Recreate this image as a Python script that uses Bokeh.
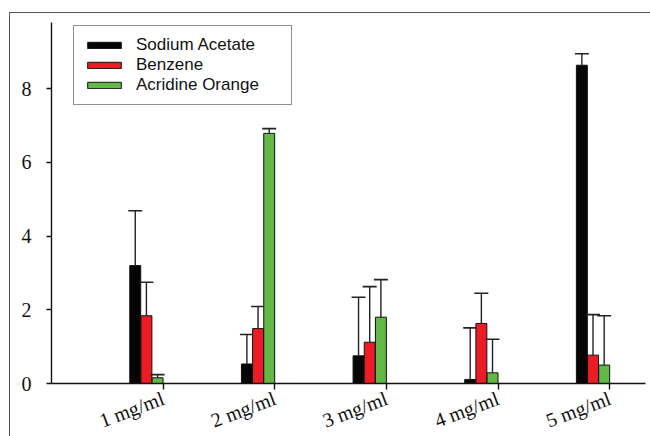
from bokeh.plotting import figure
from bokeh.models import Range1d, FixedTicker, Legend, LegendItem, ColumnDataSource
from bokeh.embed import file_html
from bokeh.resources import INLINE

categories = ["1 mg/ml", "2 mg/ml", "3 mg/ml", "4 mg/ml", "5 mg/ml"]
series = ["Sodium Acetate", "Benzene", "Acridine Orange"]
sodium_acetate = [3.20, 0.53, 0.75, 0.11, 8.64]
sodium_acetate_err = [1.49, 0.80, 1.59, 1.40, 0.31]
benzene = [1.84, 1.49, 1.12, 1.63, 0.77]
benzene_err = [0.91, 0.60, 1.51, 0.82, 1.10]
acridine_orange = [0.155, 6.79, 1.80, 0.29, 0.50]
acridine_orange_err = [0.085, 0.13, 1.02, 0.91, 1.34]
y_ticks = [0, 2, 4, 6, 8]

colors = ["#050505", "#ed1c24", "#62b946"]
offsets = [-0.25, -0.15, -0.05]
bar_w = 0.098
cap_w = 0.125

p = figure(frame_width=594, frame_height=361, output_backend="svg", toolbar_location=None,
           x_range=Range1d(0, 5.32), y_range=Range1d(0, 9.8),
           min_border_left=41, min_border_top=9, min_border_bottom=40, min_border_right=5)
p.styles = {"border-top": "1px solid #555555", "border-left": "1px solid #555555",
            "margin-top": "12px", "margin-left": "9px"}
p.outline_line_color = None
p.xgrid.grid_line_color = None
p.ygrid.grid_line_color = None

vals = [sodium_acetate, benzene, acridine_orange]
errs = [sodium_acetate_err, benzene_err, acridine_orange_err]
xs = [i + 1 for i in range(len(categories))]
legend_items = []
for s, (name, v, e, c, off) in enumerate(zip(series, vals, errs, colors, offsets)):
    xc = [x + off for x in xs]
    top_err = [a + b for a, b in zip(v, e)]
    src = ColumnDataSource(dict(x=xc, top=v, up=top_err,
                                cl=[x - cap_w / 2 for x in xc], cr=[x + cap_w / 2 for x in xc]))
    r = p.vbar(x="x", top="top", bottom=0, width=bar_w, source=src,
               fill_color=c, line_color="#111111", line_width=1)
    p.segment(x0="x", y0="top", x1="x", y1="up", source=src, line_color="#222222", line_width=1.4)
    p.segment(x0="cl", y0="up", x1="cr", y1="up", source=src, line_color="#222222", line_width=1.6)
    legend_items.append(LegendItem(label=name, renderers=[r]))

legend = Legend(items=legend_items, location=(22, 278))
legend.label_text_font = "Liberation Sans"
legend.label_text_font_size = "17px"
legend.label_text_color = "#111111"
legend.glyph_width = 42
legend.glyph_height = 8
legend.label_height = 18
legend.label_width = 146
legend.label_standoff = 11
legend.spacing = 0
legend.padding = 9
legend.margin = 0
legend.border_line_color = "#222222"
legend.border_line_width = 1.3
legend.background_fill_alpha = 1
p.add_layout(legend)

# axes
p.xaxis.ticker = FixedTicker(ticks=xs)
p.xaxis.major_label_overrides = {x: c for x, c in zip(xs, categories)}
p.xaxis.major_label_orientation = 0.36
p.xaxis.major_tick_out = 6
p.xaxis.major_tick_in = 0
p.xaxis.minor_tick_out = 0
p.xaxis.minor_tick_in = 0
p.xaxis.major_label_standoff = 8
p.xaxis.major_label_text_font_size = "20px"
p.yaxis.ticker = FixedTicker(ticks=y_ticks)
p.yaxis.major_tick_out = 5
p.yaxis.major_tick_in = 0
p.yaxis.minor_tick_out = 0
p.yaxis.minor_tick_in = 0
p.yaxis.major_label_standoff = 15
p.yaxis.major_label_text_font_size = "20px"
for ax in (p.xaxis, p.yaxis):
    ax.axis_line_color = "#111111"
    ax.axis_line_width = 1.4
    ax.major_tick_line_color = "#111111"
    ax.major_tick_line_width = 1.4
    ax.major_label_text_font = "Liberation Serif"
    ax.major_label_text_color = "#111111"

open("out.html", "w").write(file_html(p, INLINE))
